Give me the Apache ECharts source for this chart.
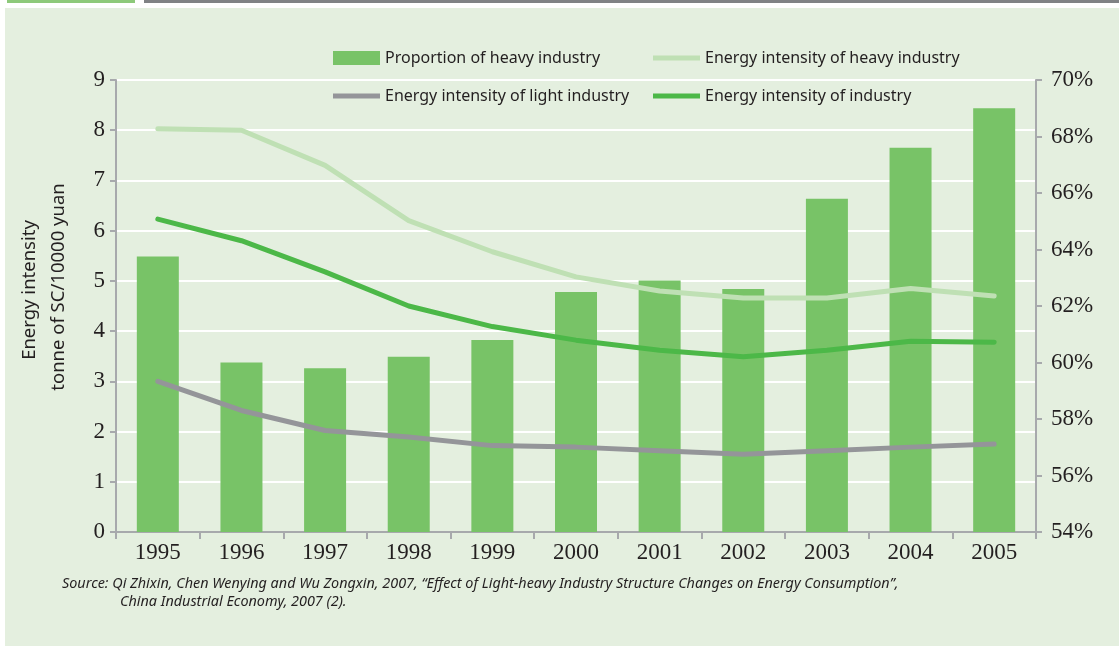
<!DOCTYPE html>
<html>
<head>
<meta charset="utf-8">
<title>Energy intensity and heavy industry</title>
<script src="https://cdn.jsdelivr.net/npm/echarts@6/dist/echarts.min.js"></script>
<style>
  html, body { margin: 0; padding: 0; background: #ffffff; }
  #chart { width: 1119px; height: 646px; }
</style>
</head>
<body>
<div id="chart"></div>
<script>
// data
const years = ['1995', '1996', '1997', '1998', '1999', '2000', '2001', '2002', '2003', '2004', '2005']
const heavyShare = [63.75, 60.0, 59.8, 60.2, 60.8, 62.5, 62.9, 62.6, 65.8, 67.6, 69.0]
const heavyIntensity = [8.03, 8.0, 7.3, 6.2, 5.58, 5.08, 4.8, 4.66, 4.66, 4.85, 4.7]
const lightIntensity = [3.0, 2.42, 2.02, 1.89, 1.72, 1.69, 1.62, 1.55, 1.62, 1.69, 1.75]
const totalIntensity = [6.23, 5.8, 5.18, 4.5, 4.09, 3.82, 3.62, 3.49, 3.62, 3.8, 3.78]

const leftTicks = { min: 0, max: 9, interval: 1 }
const rightTicks = { min: 54, max: 70, interval: 2 }

const C = {
  panel: '#e4efdf',
  bar: '#78c367',
  heavy: '#bfe0b4',
  total: '#4cb848',
  light: '#949599',
  axis: '#a7a9ac',
  text: '#231f20'
}

// flat stroke used as legend icon for the line series
const lineIcon = 'path://M0 0H47V5H0Z'

const chart = echarts.init(document.getElementById('chart'))

const legendText = { fontFamily: 'Noto Sans', fontSize: 16, color: C.text }
const tickFont = { fontFamily: 'Liberation Serif', fontSize: 23, color: C.text }

chart.setOption({
  backgroundColor: '#ffffff',
  animation: false,
  graphic: [
    { type: 'rect', shape: { x: 7, y: 0, width: 128, height: 3 }, style: { fill: '#8dc97a' }, z: -10 },
    { type: 'rect', shape: { x: 144, y: 0, width: 975, height: 3 }, style: { fill: '#808285' }, z: -10 },
    { type: 'rect', shape: { x: 5, y: 8, width: 1114, height: 638 }, style: { fill: C.panel }, z: -10 },
    {
      type: 'text', left: 62, top: 577,
      style: {
        text: 'Source: Qi Zhixin, Chen Wenying and Wu Zongxin, 2007, \u201cEffect of Light-heavy Industry Structure Changes on Energy Consumption\u201d,',
        font: 'italic 14.4px "Noto Sans"', fill: C.text
      }
    },
    {
      type: 'text', left: 120, top: 595,
      style: { text: 'China Industrial Economy, 2007 (2).', font: 'italic 14.4px "Noto Sans"', fill: C.text }
    },
    {
      type: 'text', x: 30, y: 290, rotation: Math.PI / 2,
      style: { text: 'Energy intensity', font: '18.5px "Noto Sans"', fill: C.text, align: 'center', verticalAlign: 'middle' }
    },
    {
      type: 'text', x: 59, y: 287, rotation: Math.PI / 2,
      style: { text: 'tonne of SC/10000 yuan', font: '18.5px "Noto Sans"', fill: C.text, align: 'center', verticalAlign: 'middle' }
    }
  ],
  legend: [
    {
      orient: 'vertical', left: 328, top: 45, itemGap: 22,
      itemWidth: 47, itemHeight: 14,
      textStyle: legendText,
      data: [
        { name: 'Proportion of heavy industry', icon: 'rect' },
        { name: 'Energy intensity of light industry', icon: lineIcon }
      ]
    },
    {
      orient: 'vertical', left: 648, top: 45, itemGap: 22,
      itemWidth: 47, itemHeight: 14,
      textStyle: legendText,
      data: [
        { name: 'Energy intensity of heavy industry', icon: lineIcon },
        { name: 'Energy intensity of industry', icon: lineIcon }
      ]
    }
  ],
  grid: { left: 116, right: 83, top: 80, bottom: 114 },
  xAxis: {
    type: 'category',
    data: years,
    axisLine: { lineStyle: { color: C.axis, width: 2 } },
    axisTick: { show: true, length: 7, lineStyle: { color: C.axis, width: 2 } },
    axisLabel: { ...tickFont, margin: 9 }
  },
  yAxis: [
    {
      type: 'value', ...leftTicks,
      axisLine: { show: true, lineStyle: { color: C.axis, width: 2 } },
      axisTick: { show: true, length: 6, lineStyle: { color: C.axis, width: 2 } },
      axisLabel: { ...tickFont, margin: 11 },
      splitLine: { lineStyle: { color: '#ffffff', width: 2 } }
    },
    {
      type: 'value', position: 'right', ...rightTicks,
      axisLine: { show: true, lineStyle: { color: C.axis, width: 2 } },
      axisTick: { show: true, length: 6, lineStyle: { color: C.axis, width: 2 } },
      axisLabel: { ...tickFont, margin: 15, formatter: '{value}%' },
      splitLine: { show: false }
    }
  ],
  series: [
    {
      name: 'Proportion of heavy industry',
      type: 'bar', yAxisIndex: 1,
      data: heavyShare,
      barWidth: 42,
      itemStyle: { color: C.bar },
      z: 1
    },
    {
      name: 'Energy intensity of heavy industry',
      type: 'line', data: heavyIntensity,
      symbol: 'none',
      lineStyle: { color: C.heavy, width: 5, cap: 'round', join: 'round' },
      itemStyle: { color: C.heavy },
      z: 3
    },
    {
      name: 'Energy intensity of light industry',
      type: 'line', data: lightIntensity,
      symbol: 'none',
      lineStyle: { color: C.light, width: 5, cap: 'round', join: 'round' },
      itemStyle: { color: C.light },
      z: 3
    },
    {
      name: 'Energy intensity of industry',
      type: 'line', data: totalIntensity,
      symbol: 'none',
      lineStyle: { color: C.total, width: 5, cap: 'round', join: 'round' },
      itemStyle: { color: C.total },
      z: 3
    }
  ]
})
</script>
</body>
</html>
